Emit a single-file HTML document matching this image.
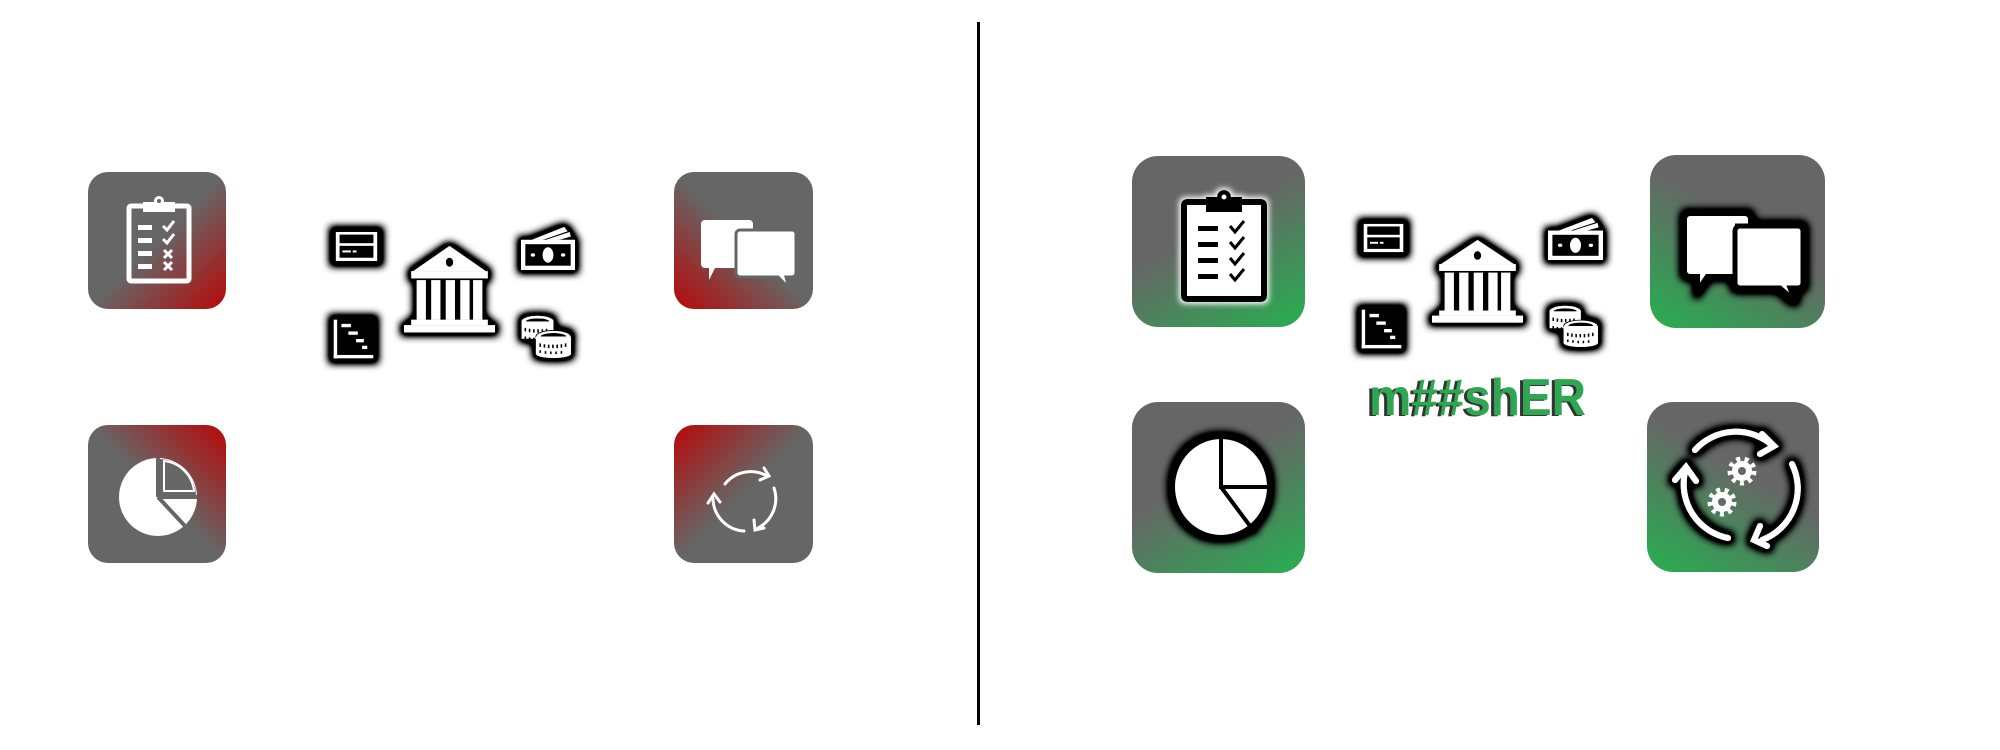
<!DOCTYPE html>
<html><head><meta charset="utf-8"><style>
html,body{margin:0;padding:0;background:#fff;width:2000px;height:750px;overflow:hidden}
svg{display:block}
</style></head><body>
<svg width="2000" height="750" viewBox="0 0 2000 750" xmlns="http://www.w3.org/2000/svg">
<defs>
<linearGradient id="rBR" x1="0" y1="0" x2="1" y2="1"><stop offset="0" stop-color="#666"/><stop offset="0.5" stop-color="#666"/><stop offset="1" stop-color="#b80808"/></linearGradient>
<linearGradient id="rBL" x1="1" y1="0" x2="0" y2="1"><stop offset="0" stop-color="#666"/><stop offset="0.5" stop-color="#666"/><stop offset="1" stop-color="#b80808"/></linearGradient>
<linearGradient id="rTR" x1="0" y1="1" x2="1" y2="0"><stop offset="0" stop-color="#666"/><stop offset="0.5" stop-color="#666"/><stop offset="1" stop-color="#b80808"/></linearGradient>
<linearGradient id="rTL" x1="1" y1="1" x2="0" y2="0"><stop offset="0" stop-color="#666"/><stop offset="0.5" stop-color="#666"/><stop offset="1" stop-color="#b80808"/></linearGradient>
<linearGradient id="gBR" x1="0.2" y1="0" x2="0.8" y2="1"><stop offset="0" stop-color="#666"/><stop offset="0.4" stop-color="#666"/><stop offset="1" stop-color="#2ea652"/></linearGradient>
<linearGradient id="gBL" x1="0.8" y1="0" x2="0.2" y2="1"><stop offset="0" stop-color="#666"/><stop offset="0.4" stop-color="#666"/><stop offset="1" stop-color="#2ea652"/></linearGradient>
<filter id="glow" x="-40%" y="-40%" width="180%" height="180%">
<feMorphology in="SourceAlpha" operator="dilate" radius="3" result="d"/>
<feGaussianBlur in="d" stdDeviation="4" result="b"/>
<feComponentTransfer in="b" result="b2"><feFuncA type="linear" slope="2"/></feComponentTransfer>
<feMerge><feMergeNode in="b2"/><feMergeNode in="SourceGraphic"/></feMerge>
</filter>
<filter id="wglow" x="-30%" y="-30%" width="160%" height="160%">
<feMorphology in="SourceAlpha" operator="dilate" radius="2" result="d"/>
<feGaussianBlur in="d" stdDeviation="3" result="b"/>
<feFlood flood-color="#fff"/><feComposite in2="b" operator="in" result="w"/>
<feMerge><feMergeNode in="w"/><feMergeNode in="SourceGraphic"/></feMerge>
</filter>

<g id="bank">
<path d="M50 0 L90 28 L10 28 Z" fill="#fff"/>
<rect x="8" y="28" width="84" height="8" fill="#fff"/>
<rect x="14" y="38" width="10" height="44" fill="#fff"/><rect x="30" y="38" width="10" height="44" fill="#fff"/>
<rect x="46" y="38" width="10" height="44" fill="#fff"/><rect x="62" y="38" width="10" height="44" fill="#fff"/>
<rect x="76" y="38" width="10" height="44" fill="#fff"/>
<rect x="8" y="82" width="84" height="6" fill="#fff"/><rect x="0" y="88" width="100" height="8" fill="#fff"/>
<ellipse cx="50" cy="18" rx="4" ry="5" fill="#000"/>
</g>
<g id="card">
<rect x="0" y="0" width="100" height="100" fill="#000"/>
<rect x="6" y="6" width="88" height="88" fill="#fff"/>
<rect x="14" y="14" width="72" height="26" fill="#000"/>
<rect x="14" y="48" width="72" height="36" fill="#000"/>
<rect x="20" y="62" width="18" height="6" fill="#fff"/><rect x="42" y="62" width="8" height="6" fill="#fff"/>
</g>
<g id="money">
<rect x="0" y="30" width="100" height="70" fill="#fff"/>
<rect x="8" y="40" width="84" height="50" fill="#000"/>
<ellipse cx="50" cy="65" rx="10" ry="18" fill="#fff"/>
<circle cx="22" cy="65" r="4" fill="#fff"/><circle cx="78" cy="65" r="4" fill="#fff"/>
<path d="M20 30 L80 0 L86 10 L40 30 Z" fill="#fff"/><path d="M46 30 L90 12 L92 22 L70 30Z" fill="#fff"/>
</g>
<g id="chart">
<rect x="0" y="0" width="100" height="100" fill="#000"/>
<rect x="4" y="4" width="8" height="92" fill="#fff"/><rect x="4" y="88" width="92" height="8" fill="#fff"/>
<rect x="22" y="14" width="22" height="8" fill="#fff"/><rect x="38" y="32" width="22" height="8" fill="#fff"/>
<rect x="56" y="50" width="18" height="8" fill="#fff"/><rect x="70" y="66" width="12" height="8" fill="#fff"/>
</g>
<g id="coins">
<ellipse cx="35" cy="15" rx="30" ry="13" fill="#fff"/><ellipse cx="35" cy="15" rx="22" ry="7" fill="#000"/>
<rect x="5" y="15" width="60" height="40" fill="#fff"/>
<path d="M12 30v8M20 32v8M28 33v8M36 33v8M44 33v8M52 32v8M12 50v6M20 52v6M28 53v6" stroke="#000" stroke-width="3"/>
<ellipse cx="65" cy="50" rx="33" ry="14" fill="#fff" stroke="#000" stroke-width="2"/><ellipse cx="65" cy="50" rx="24" ry="8" fill="#000"/>
<rect x="32" y="50" width="66" height="40" fill="#fff"/>
<ellipse cx="65" cy="90" rx="33" ry="10" fill="#fff"/>
<path d="M40 66v8M48 68v8M56 69v8M64 69v8M72 69v8M80 68v8M88 66v8M40 82v6M50 84v6M60 85v6M70 85v6M80 84v6" stroke="#000" stroke-width="3"/>
</g>
</defs>

<rect x="977" y="22" width="3" height="703" fill="#000"/>

<rect x="88" y="172" width="138" height="137" rx="20" fill="url(#rBR)"/>
<rect x="674" y="172" width="139" height="137" rx="20" fill="url(#rBL)"/>
<rect x="88" y="425" width="138" height="138" rx="20" fill="url(#rTR)"/>
<rect x="674" y="425" width="139" height="138" rx="20" fill="url(#rTL)"/>

<g fill="none" stroke="#fff" stroke-width="5">
<rect x="129" y="206" width="60" height="75" rx="2"/>
</g>
<rect x="143" y="202" width="32" height="10" fill="#fff"/><circle cx="159" cy="201" r="5" fill="#fff"/><circle cx="159" cy="201" r="2" fill="#666"/>
<g fill="#fff"><rect x="138" y="225" width="14" height="5"/><rect x="138" y="238" width="14" height="5"/><rect x="138" y="251" width="14" height="5"/><rect x="138" y="264" width="14" height="5"/></g>
<g stroke="#fff" stroke-width="3" fill="none"><path d="M163 226l4 4 7-9M163 239l4 4 7-9"/><path d="M164 250l8 8M172 250l-8 8M164 262l8 8M172 262l-8 8"/></g>

<g transform="translate(-8 0)">
<path d="M713 220h44a4 4 0 0 1 4 4v40a4 4 0 0 1-4 4h-34l-6 12v-12h-4a4 4 0 0 1-4-4v-40a4 4 0 0 1 4-4z" fill="#fff"/>
<path d="M748 230h52a4 4 0 0 1 4 4v39a4 4 0 0 1-4 4h-6l3 11-11-11h-38a4 4 0 0 1-4-4v-39a4 4 0 0 1 4-4z" fill="#fff" stroke="#666" stroke-width="3"/>
<g fill="none" stroke="#fff" stroke-width="3" stroke-linecap="round">
<path d="M733 484 A33 33 0 0 1 775 476"/><path d="M772 468l5 8-9 4"/>
<path d="M782 488 A33 33 0 0 1 766 528"/><path d="M762 520l1 10 9-2"/>
<path d="M752 531 A33 33 0 0 1 721 499"/><path d="M716 503l6-9 6 8"/>
</g>
</g>

<ellipse cx="158" cy="497" rx="39" ry="39" fill="#fff"/>
<path d="M158 497 L158 458 M158 497 L197 497 M158 497 L185 526" stroke="#666" stroke-width="4"/>
<path d="M160 459 A38 38 0 0 1 196 495 L160 495Z" fill="#666"/>
<path d="M164 461 A34 34 0 0 1 194 491 L164 491Z" fill="none" stroke="#fff" stroke-width="2"/>

<g filter="url(#glow)">
<use href="#bank" transform="translate(404 246) scale(0.91 0.9)"/>
<use href="#card" transform="translate(333 230) scale(0.47 0.33)"/>
<use href="#money" transform="translate(521 227) scale(0.54 0.43)"/>
<use href="#chart" transform="translate(332 318) scale(0.43 0.42)"/>
<use href="#coins" transform="translate(519 315) scale(0.53 0.43)"/>
</g>

<rect x="1132" y="156" width="173" height="171" rx="26" fill="url(#gBR)"/>
<rect x="1650" y="155" width="175" height="173" rx="26" fill="url(#gBL)"/>
<rect x="1132" y="402" width="173" height="171" rx="26" fill="url(#gBR)"/>
<rect x="1647" y="402" width="172" height="170" rx="26" fill="url(#gBL)"/>

<g filter="url(#wglow)">
<rect x="1184" y="202" width="80" height="97" rx="3" fill="#fff" stroke="#000" stroke-width="6"/>
<rect x="1206" y="197" width="36" height="15" fill="#000"/><circle cx="1224" cy="197" r="7" fill="#000"/><circle cx="1224" cy="197" r="2.5" fill="#fff"/>
<g fill="#000"><rect x="1198" y="226" width="20" height="5"/><rect x="1198" y="242" width="20" height="5"/><rect x="1198" y="258" width="20" height="5"/><rect x="1198" y="274" width="20" height="5"/></g>
<path d="M1230 226l5 6 9-11M1230 242l5 6 9-11M1230 258l5 6 9-11M1230 274l5 6 9-11" stroke="#000" stroke-width="3" fill="none"/>
</g>

<g filter="url(#glow)">
<path d="M1690 214h55a5 5 0 0 1 5 5v52a5 5 0 0 1-5 5h-38l-9 13v-13h-8a5 5 0 0 1-5-5v-52a5 5 0 0 1 5-5z" fill="#fff" stroke="#000" stroke-width="4"/>
<path d="M1735 226h63a5 5 0 0 1 5 5v52a5 5 0 0 1-5 5h-8l5 13-15-13h-40a5 5 0 0 1-5-5v-52a5 5 0 0 1 5-5z" fill="#fff" stroke="#000" stroke-width="5"/>
</g>

<g filter="url(#glow)">
<ellipse cx="1221" cy="487" rx="48" ry="50" fill="#fff" stroke="#000" stroke-width="4"/>
<path d="M1221 437 L1221 487 L1270 487 M1221 487 L1253 530" stroke="#000" stroke-width="4" fill="none"/>
</g>

<g filter="url(#glow)">
<g fill="none" stroke="#fff" stroke-width="6" stroke-linecap="round">
<path d="M1695 450 A55 55 0 0 1 1773 446"/><path d="M1762 434l12 12-14 8"/>
<path d="M1792 464 A55 55 0 0 1 1762 540"/><path d="M1760 526l-6 14 13 6"/>
<path d="M1728 538 A55 55 0 0 1 1685 472"/><path d="M1675 480l11-13 10 14"/>
</g>
</g>
<g fill="#fff">
<circle cx="1742" cy="471" r="10"/><circle cx="1722" cy="502" r="10"/>
<g stroke="#fff" stroke-width="5" stroke-dasharray="4 4.4"><circle cx="1742" cy="471" r="12" fill="none"/><circle cx="1722" cy="502" r="12" fill="none"/></g>
<circle cx="1742" cy="471" r="4" fill="#666"/><circle cx="1722" cy="502" r="4" fill="#666"/>
</g>

<g filter="url(#glow)">
<use href="#bank" transform="translate(1432 240) scale(0.91 0.86)"/>
<use href="#card" transform="translate(1361 222) scale(0.45 0.32)"/>
<use href="#money" transform="translate(1548 218) scale(0.55 0.42)"/>
<use href="#chart" transform="translate(1360 308) scale(0.43 0.42)"/>
<use href="#coins" transform="translate(1547 305) scale(0.52 0.42)"/>
</g>

<text x="1366" y="416" font-family="'Liberation Sans',sans-serif" font-weight="bold" font-size="52" fill="#333" textLength="217" lengthAdjust="spacingAndGlyphs">m##shER</text>
<text x="1369" y="415" font-family="'Liberation Sans',sans-serif" font-weight="bold" font-size="52" fill="#2ea652" textLength="217" lengthAdjust="spacingAndGlyphs">m##shER</text>
</svg>
</body></html>
